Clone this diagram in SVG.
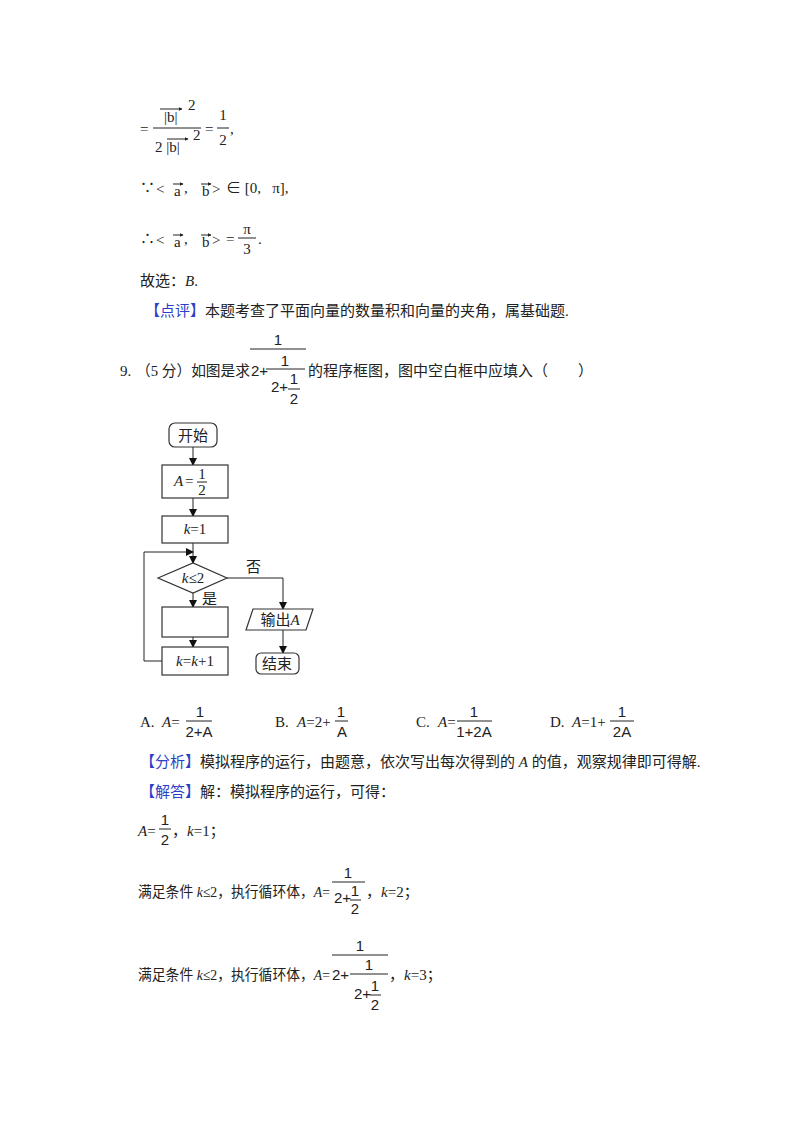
<svg xmlns="http://www.w3.org/2000/svg" width="800" height="1132" viewBox="0 0 800 1132">
<style>
text{font-family:"Liberation Serif","Noto Sans CJK SC",serif;font-size:15px;fill:#222;white-space:pre}
.c{text-anchor:middle}
.i{font-style:italic}
.b{fill:#2b3fc8}
.s{font-family:"Liberation Sans","Noto Sans CJK SC",sans-serif}
.ln{stroke:#222;stroke-width:1;fill:none}
.box{stroke:#333;stroke-width:1.2;fill:#fff}
</style>
<defs>
<marker id="ar" markerWidth="8" markerHeight="8" refX="7" refY="4" orient="auto" markerUnits="userSpaceOnUse"><path d="M0,0 L8,4 L0,8 z" fill="#111"/></marker>
<marker id="va" markerWidth="4" markerHeight="4" refX="3.5" refY="2" orient="auto" markerUnits="userSpaceOnUse"><path d="M0,0 L4,2 L0,4 z" fill="#222"/></marker>
</defs>
<rect width="800" height="1132" fill="#fff"/>
<!-- top math -->
<text x="140" y="134">=</text>
<text x="164" y="122">|b|</text><text x="188" y="110" font-size="11">2</text>
<line class="ln" x1="160" y1="109" x2="182" y2="109" marker-end="url(#va)"/>
<line class="ln" x1="153" y1="128" x2="201" y2="128"/>
<text x="155" y="152">2 |b|</text><text x="193" y="140" font-size="11">2</text>
<line class="ln" x1="167" y1="139" x2="188" y2="139" marker-end="url(#va)"/>
<text x="205" y="134">=</text>
<text x="223" y="120" class="c">1</text><line class="ln" x1="217" y1="128" x2="229" y2="128"/><text x="223" y="145" class="c">2</text>
<text x="230" y="134">,</text>
<g>
<text x="140" y="193">∵</text><text x="156" y="194" font-size="18">&lt;</text><text x="174" y="196">a</text><text x="184" y="193">,</text><text x="202" y="196">b</text><text x="212" y="194" font-size="18">&gt;</text><text x="226" y="193">∈ [0,   π],</text>
<line class="ln" x1="173" y1="184" x2="183" y2="184" marker-end="url(#va)"/><line class="ln" x1="201" y1="184" x2="211" y2="184" marker-end="url(#va)"/>
</g>
<g>
<text x="140" y="244">∴</text><text x="156" y="245" font-size="18">&lt;</text><text x="174" y="247">a</text><text x="184" y="244">,</text><text x="202" y="247">b</text><text x="212" y="245" font-size="18">&gt;</text><text x="226" y="244">=</text>
<line class="ln" x1="173" y1="235" x2="183" y2="235" marker-end="url(#va)"/><line class="ln" x1="201" y1="235" x2="211" y2="235" marker-end="url(#va)"/>
<text x="247" y="234" class="c">π</text><line class="ln" x1="238" y1="238" x2="256" y2="238"/><text x="247" y="254" class="c">3</text><text x="258" y="244">.</text>
</g>
<text x="140" y="286">故选：<tspan class="i">B</tspan>.</text>
<text x="145" y="316"><tspan class="b">【点评】</tspan>本题考查了平面向量的数量积和向量的夹角，属基础题.</text>
<!-- question -->
<text x="120" y="376">9.</text>
<text x="136" y="376" textLength="114" lengthAdjust="spacingAndGlyphs">（5 分）如图是求</text>
<text x="251" y="376" class="s">2+</text>
<text x="278" y="345" class="c s">1</text><line class="ln" x1="250" y1="349" x2="306" y2="349"/>
<text x="285" y="366" class="c s">1</text><line class="ln" x1="266" y1="369" x2="305" y2="369"/>
<text x="271" y="392" class="s">2+</text>
<text x="294" y="384" class="c s">1</text><line class="ln" x1="288" y1="389" x2="300" y2="389"/><text x="294" y="404" class="c s">2</text>
<text x="308" y="376">的程序框图，图中空白框中应填入（        ）</text>
<!-- flowchart -->
<g id="connectors">
<line class="ln" x1="193" y1="447" x2="193" y2="465" marker-end="url(#ar)"/>
<line class="ln" x1="193" y1="498" x2="193" y2="516" marker-end="url(#ar)"/>
<line class="ln" x1="193" y1="543" x2="193" y2="563" marker-end="url(#ar)"/>
<line class="ln" x1="193" y1="593" x2="193" y2="607" marker-end="url(#ar)"/>
<line class="ln" x1="193" y1="637" x2="193" y2="647" marker-end="url(#ar)"/>
<polyline class="ln" points="162,661 144,661 144,552 193,552" marker-end="url(#ar)"/>
<polyline class="ln" points="227,578 283,578 283,609" marker-end="url(#ar)"/>
<line class="ln" x1="283" y1="630" x2="283" y2="653" marker-end="url(#ar)"/>
<text x="202" y="604" class="s">是</text>
<text x="246" y="572" class="s">否</text>
</g>
<g id="start"><rect class="box" x="169" y="423" width="48" height="24" rx="6"/><text x="193" y="441" class="c s">开始</text></g>
<g id="initA"><rect class="box" x="162" y="465" width="66" height="33"/><text x="174" y="486" class="i">A</text><text x="185" y="486">=</text><text x="202" y="479" class="c" font-size="12">1</text><line class="ln" x1="197" y1="482" x2="207" y2="482"/><text x="202" y="495" class="c" font-size="12">2</text></g>
<g id="initk"><rect class="box" x="162" y="516" width="66" height="27"/><text x="195" y="534" class="c"><tspan class="i">k</tspan>=1</text></g>
<g id="cond"><polygon class="box" points="158,578 193,563 227,578 193,593"/><text x="193" y="583" class="c"><tspan class="i">k</tspan>≤2</text></g>
<g id="blank"><rect class="box" x="162" y="607" width="66" height="30"/></g>
<g id="inc"><rect class="box" x="162" y="647" width="66" height="28"/><text x="195" y="666" class="c"><tspan class="i">k</tspan>=<tspan class="i">k</tspan>+1</text></g>
<g id="output"><polygon class="box" points="253,609 313,609 306,630 246,630"/><text x="280" y="625" class="c s">输出<tspan class="i" font-family="Liberation Serif">A</tspan></text></g>
<g id="end"><rect class="box" x="256" y="653" width="43" height="21" rx="5"/><text x="277" y="669" class="c s">结束</text></g>
<!-- options -->
<text x="140" y="727">A.</text><text x="162" y="727"><tspan class="i">A</tspan>=</text>
<text x="200" y="717" class="c s">1</text><line class="ln" x1="186" y1="721" x2="212" y2="721"/><text x="199" y="737" class="c s">2+A</text>
<text x="275" y="727">B.</text><text x="297" y="727"><tspan class="i">A</tspan>=2+</text>
<text x="341" y="717" class="c s">1</text><line class="ln" x1="335" y1="721" x2="348" y2="721"/><text x="342" y="737" class="c s">A</text>
<text x="416" y="727">C.</text><text x="438" y="727"><tspan class="i">A</tspan>=</text>
<text x="474" y="717" class="c s">1</text><line class="ln" x1="457" y1="721" x2="492" y2="721"/><text x="474" y="737" class="c s">1+2A</text>
<text x="550" y="727">D.</text><text x="572" y="727"><tspan class="i">A</tspan>=1+</text>
<text x="622" y="717" class="c s">1</text><line class="ln" x1="610" y1="721" x2="634" y2="721"/><text x="622" y="737" class="c s">2A</text>
<text x="140" y="767"><tspan class="b">【分析】</tspan>模拟程序的运行，由题意，依次写出每次得到的 <tspan class="i">A</tspan> 的值，观察规律即可得解.</text>
<text x="140" y="797"><tspan class="b">【解答】</tspan>解：模拟程序的运行，可得：</text>
<text x="138" y="836"><tspan class="i">A</tspan>=</text>
<text x="165" y="825" class="c s">1</text><line class="ln" x1="159" y1="829" x2="171" y2="829"/><text x="165" y="845" class="c s">2</text>
<text x="172" y="836">，<tspan class="i">k</tspan>=1；</text>
<text x="138" y="897" textLength="192" lengthAdjust="spacingAndGlyphs">满足条件 <tspan class="i">k</tspan>≤2，执行循环体，<tspan class="i">A</tspan>=</text>
<text x="348" y="878" class="c s">1</text><line class="ln" x1="332" y1="882" x2="365" y2="882"/>
<text x="334" y="903" class="s">2+</text><text x="355" y="896" class="c s">1</text><line class="ln" x1="350" y1="900" x2="361" y2="900"/><text x="355" y="914" class="c s">2</text>
<text x="366" y="897">，<tspan class="i">k</tspan>=2；</text>
<text x="138" y="980" textLength="192" lengthAdjust="spacingAndGlyphs">满足条件 <tspan class="i">k</tspan>≤2，执行循环体，<tspan class="i">A</tspan>=</text>
<text x="332" y="980" class="s">2+</text>
<text x="360" y="951" class="c s">1</text><line class="ln" x1="332" y1="955" x2="388" y2="955"/>
<text x="369" y="970" class="c s">1</text><line class="ln" x1="350" y1="974" x2="388" y2="974"/>
<text x="354" y="999" class="s">2+</text><text x="375" y="991" class="c s">1</text><line class="ln" x1="370" y1="995" x2="381" y2="995"/><text x="375" y="1010" class="c s">2</text>
<text x="389" y="980">，<tspan class="i">k</tspan>=3；</text>
</svg>
